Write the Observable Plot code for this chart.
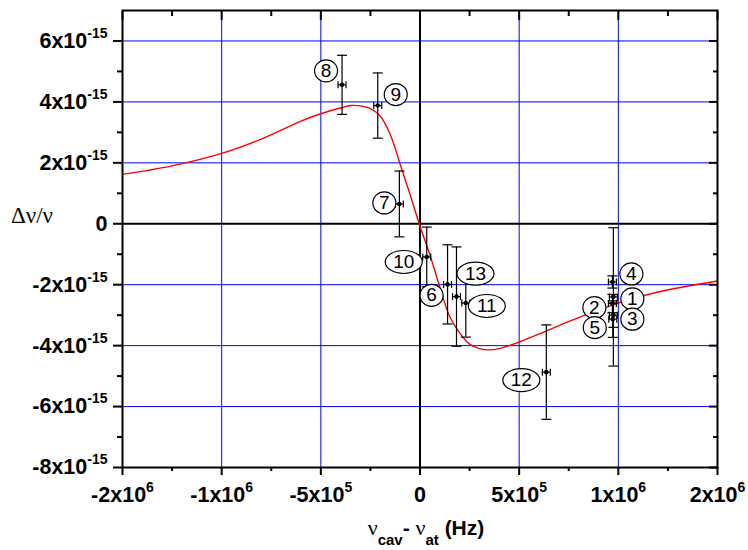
<!DOCTYPE html>
<html><head><meta charset="utf-8">
<script src="https://cdn.jsdelivr.net/npm/d3@7"></script>
<script src="https://cdn.jsdelivr.net/npm/@observablehq/plot@0.6"></script>
<style>body{margin:0;background:#fff} svg{display:block;background:#fff}</style>
</head><body><div id="chart"></div>
<script>
// ---- data (x in Hz, y in units of 1e-15) ----
const curveX = [-1.5e6, -1.25e6, -1e6, -8e5, -6e5, -5e5, -4e5, -3.5e5, -3e5, -2.5e5, -2e5, -1.5e5, -1e5, -5e4, 0, 5e4, 1e5, 1.5e5, 2e5, 2.5e5, 3e5, 3.5e5, 4e5, 5e5, 6e5, 7e5, 8e5, 9e5, 1e6, 1.2e6, 1.5e6];
const curveY = [1.62, 1.90, 2.31, 2.78, 3.37, 3.61, 3.80, 3.88, 3.87, 3.78, 3.53, 2.93, 1.95, 0.96, -0.08, -1.02, -2.08, -3.05, -3.58, -3.95, -4.10, -4.14, -4.10, -3.88, -3.62, -3.34, -3.08, -2.84, -2.60, -2.24, -1.88];

const pointIds  = [1, 2, 3, 4, 5, 6, 7, 8, 9, 10, 11, 12, 13];
const pointX    = [9.75e5, 9.7e5, 9.75e5, 9.7e5, 9.72e5, 1.39e5, -1.04e5, -3.93e5, -2.13e5, 3.4e4, 2.31e5, 6.37e5, 1.84e5];
const pointY    = [-2.40, -2.62, -3.00, -1.91, -3.13, -1.99, 0.65, 4.56, 3.88, -1.09, -2.60, -4.87, -2.39];
const pointYErr = [2.27, 0.30, 0.40, 0.20, 0.60, 1.30, 1.08, 0.97, 1.07, 0.98, 1.12, 1.55, 1.63];
const pointXErr = [2e4, 2e4, 2e4, 2e4, 2e4, 2e4, 2e4, 2e4, 2e4, 2e4, 2e4, 2e4, 2e4];

const xTicks = [-1.5e6, -1e6, -5e5, 0, 5e5, 1e6, 1.5e6];
const xTickLabels = ["-2x10^6", "-1x10^6", "-5x10^5", "0", "5x10^5", "1x10^6", "2x10^6"];
const xMinorTicks = [-1.25e6, -7.5e5, -2.5e5, 2.5e5, 7.5e5, 1.25e6];
const xGrid = [-1e6, -5e5, 5e5, 1e6];
const yTicks = [-8, -6, -4, -2, 0, 2, 4, 6];
const yTickLabels = ["-8x10^-15", "-6x10^-15", "-4x10^-15", "-2x10^-15", "0", "2x10^-15", "4x10^-15", "6x10^-15"];
const yMinorTicks = [-7, -5, -3, -1, 1, 3, 5];
const yGrid = [-6, -4, -2, 2, 4, 6];

// ---- layout (label bubble offsets in px, per point id order) ----
const labelOffsets = [[19, 2], [-18, 4], [19, 4], [19, -8], [-18, 8.5], [-16, 11], [-15, -1], [-16, -14], [18, -11], [-23, 5], [21, 3], [-25, 8], [19, -23]];

const W = 748, H = 550, ML = 122, MR = 31, MT = 10, MB = 83;
const xDomain = [-1.5e6, 1.5e6], yDomain = [-8, 7];
const kx = (xDomain[1] - xDomain[0]) / (W - ML - MR);
const ky = (yDomain[1] - yDomain[0]) / (H - MT - MB);

const curve = curveX.map((x, i) => ({x, y: curveY[i]}));
const points = pointIds.map((id, i) => ({
  id, x: pointX[i], y: pointY[i], e: pointYErr[i], ex: pointXErr[i],
  lx: pointX[i] + labelOffsets[i][0] * kx,
  ly: pointY[i] - labelOffsets[i][1] * ky
}));

function ellipseSymbol(rx, ry) {
  return {draw(ctx) {
    const a = rx * 0.5523, b = ry * 0.5523;
    ctx.moveTo(rx, 0);
    ctx.bezierCurveTo(rx, b, a, ry, 0, ry);
    ctx.bezierCurveTo(-a, ry, -rx, b, -rx, 0);
    ctx.bezierCurveTo(-rx, -b, -a, -ry, 0, -ry);
    ctx.bezierCurveTo(a, -ry, rx, -b, rx, 0);
    ctx.closePath();
  }};
}
const hCap = {draw(ctx) { ctx.moveTo(-5, 0); ctx.lineTo(5, 0); }};
const vCap = {draw(ctx) { ctx.moveTo(0, -3.5); ctx.lineTo(0, 3.5); }};

const xLab = new Map(xTicks.map((t, i) => [t, xTickLabels[i]]));
const yLab = new Map(yTicks.map((t, i) => [t, yTickLabels[i]]));

const chart = Plot.plot({
  width: W, height: H,
  marginLeft: ML, marginRight: MR, marginTop: MT, marginBottom: MB,
  style: {fontFamily: "'Liberation Sans', Arial, sans-serif", background: "#fff", overflow: "visible"},
  x: {domain: xDomain},
  y: {domain: yDomain},
  marks: [
    Plot.gridX(xGrid, {stroke: "#0000ff", strokeOpacity: 1, strokeWidth: 1}),
    Plot.gridY(yGrid, {stroke: "#0000ff", strokeOpacity: 1, strokeWidth: 1}),
    Plot.ruleX([0], {stroke: "black", strokeWidth: 2}),
    Plot.ruleY([0], {stroke: "black", strokeWidth: 2}),
    Plot.line(curve, {x: "x", y: "y", stroke: "#ff0000", strokeWidth: 1.4, curve: "catmull-rom"}),
    Plot.ruleX(points, {x: "x", y1: d => d.y - d.e, y2: d => d.y + d.e, stroke: "black", strokeWidth: 1.2}),
    Plot.dot(points, {x: "x", y: d => d.y + d.e, symbol: hCap, stroke: "black", strokeWidth: 1.2, r: 5}),
    Plot.dot(points, {x: "x", y: d => d.y - d.e, symbol: hCap, stroke: "black", strokeWidth: 1.2, r: 5}),
    Plot.ruleY(points, {y: "y", x1: d => d.x - d.ex, x2: d => d.x + d.ex, stroke: "black", strokeWidth: 1.2}),
    Plot.dot(points, {x: d => d.x - d.ex, y: "y", symbol: vCap, stroke: "black", strokeWidth: 1.2, r: 4}),
    Plot.dot(points, {x: d => d.x + d.ex, y: "y", symbol: vCap, stroke: "black", strokeWidth: 1.2, r: 4}),
    Plot.dot(points, {x: "x", y: "y", r: 2.3, fill: "black", stroke: "none"}),
    Plot.dot(points.filter(d => d.id < 10), {x: "lx", y: "ly", symbol: ellipseSymbol(11.5, 11), fill: "white", stroke: "black", strokeWidth: 1.2, r: 11}),
    Plot.dot(points.filter(d => d.id >= 10), {x: "lx", y: "ly", symbol: ellipseSymbol(18.5, 11.5), fill: "white", stroke: "black", strokeWidth: 1.2, r: 11}),
    Plot.text(points, {x: "lx", y: "ly", text: d => String(d.id), fontSize: 19, fill: "black"}),
    Plot.frame({stroke: "black", strokeWidth: 2}),
    Plot.axisY(yTicks, {anchor: "left", tickSize: 9, tickPadding: 6, strokeWidth: 2, tickFormat: d => yLab.get(d), fontSize: 21.5, fontWeight: "bold", label: null}),
    Plot.axisY(yMinorTicks, {anchor: "left", tickSize: 5, strokeWidth: 2, text: null, label: null}),
    Plot.axisY(yTicks, {anchor: "right", tickSize: -9, strokeWidth: 2, text: null, label: null}),
    Plot.axisY(yMinorTicks, {anchor: "right", tickSize: -5, strokeWidth: 2, text: null, label: null}),
    Plot.axisX(xTicks, {anchor: "bottom", tickSize: 8, tickPadding: 11, strokeWidth: 2, tickFormat: d => xLab.get(d), fontSize: 21.5, fontWeight: "bold", label: null}),
    Plot.axisX(xMinorTicks, {anchor: "bottom", tickSize: 4, strokeWidth: 2, text: null, label: null}),
    Plot.axisX(xTicks, {anchor: "top", tickSize: -9, strokeWidth: 2, text: null, label: null}),
    Plot.axisX(xMinorTicks, {anchor: "top", tickSize: -5, strokeWidth: 2, text: null, label: null})
  ]
});

const svg = d3.select(chart);
// superscripts in tick labels
svg.selectAll("text").each(function() {
  const t = this.textContent;
  if (t.includes("^")) {
    const [base, sup] = t.split("^");
    const el = d3.select(this);
    el.text(base);
    el.append("tspan").attr("dy", -10).attr("font-size", 14).text(sup);
  }
});
// y-axis title
svg.append("text").attr("x", 11).attr("y", 222.5).attr("text-anchor", "start")
  .attr("font-family", "'Liberation Serif', 'Times New Roman', serif").attr("font-size", 23).attr("fill", "black")
  .text("\u0394\u03bd/\u03bd");
// x-axis title
const xt = svg.append("text").attr("x", 426).attr("y", 535).attr("text-anchor", "middle").attr("fill", "black")
  .attr("font-family", "'Liberation Sans', Arial, sans-serif");
const serif = "'Liberation Serif', 'Times New Roman', serif";
xt.append("tspan").attr("font-family", serif).attr("font-size", 22).text("\u03bd");
xt.append("tspan").attr("font-size", 15).attr("font-weight", "bold").attr("dy", 10).text("cav");
xt.append("tspan").attr("font-size", 21).attr("font-weight", "bold").attr("dy", -10).text("-\u00a0");
xt.append("tspan").attr("font-family", serif).attr("font-size", 22).text("\u03bd");
xt.append("tspan").attr("font-size", 15).attr("font-weight", "bold").attr("dy", 10).text("at");
xt.append("tspan").attr("font-size", 21).attr("font-weight", "bold").attr("dy", -10).text("\u00a0(Hz)");

document.getElementById("chart").appendChild(chart);
</script>
</body></html>
